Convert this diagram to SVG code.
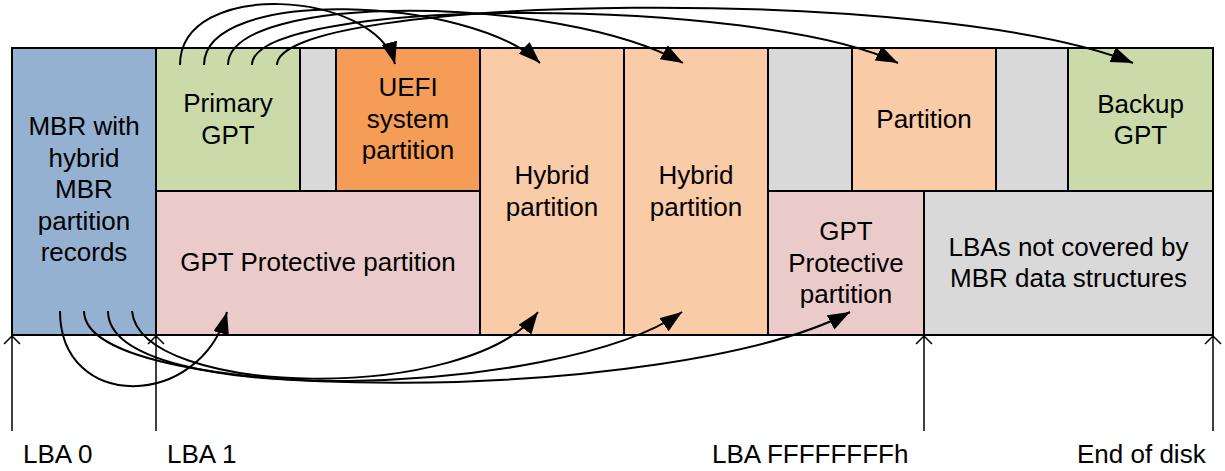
<svg xmlns="http://www.w3.org/2000/svg" width="1225" height="471" viewBox="0 0 1225 471">
<defs>
<style>
.box{stroke:#000;stroke-width:2}
.blue{fill:#95B1D2}
.green{fill:#CADBA9}
.gray{fill:#D9D9D9}
.orange{fill:#F59D56}
.peach{fill:#F9CBA6}
.pink{fill:#EBCBCA}
text{font-family:"Liberation Sans",Arial,sans-serif;font-size:26px;fill:#000}
.c{text-anchor:middle}
.conn{fill:none;stroke:#000;stroke-width:2}
.tick{fill:none;stroke:#000;stroke-width:1.5}
</style>
<marker id="ah" markerUnits="userSpaceOnUse" markerWidth="24" markerHeight="18" refX="22" refY="8" orient="auto">
<path d="M0,0 L22,8 L0,16 z" fill="#000"/>
</marker>
</defs>

<g id="mbr"><rect class="box blue" x="12" y="48" width="144" height="287"/>
<text class="c" x="84" y="135">MBR with</text><text class="c" x="84" y="166.5">hybrid</text><text class="c" x="84" y="198">MBR</text><text class="c" x="84" y="229.5">partition</text><text class="c" x="84" y="261">records</text></g>

<g id="primary-gpt"><rect class="box green" x="156" y="48" width="144" height="143"/>
<text class="c" x="228" y="112">Primary</text><text class="c" x="228" y="143.5">GPT</text></g>

<g id="gap1"><rect class="box gray" x="300" y="48" width="36" height="143"/></g>

<g id="uefi"><rect class="box orange" x="336" y="48" width="144" height="143"/>
<text class="c" x="408" y="96">UEFI</text><text class="c" x="408" y="127.5">system</text><text class="c" x="408" y="159">partition</text></g>

<g id="gpt-protective-1"><rect class="box pink" x="156" y="191" width="324" height="144"/>
<text class="c" x="318" y="271">GPT Protective partition</text></g>

<g id="hybrid-1"><rect class="box peach" x="480" y="48" width="144" height="287"/>
<text class="c" x="552" y="184">Hybrid</text><text class="c" x="552" y="215.5">partition</text></g>

<g id="hybrid-2"><rect class="box peach" x="624" y="48" width="144" height="287"/>
<text class="c" x="696" y="184">Hybrid</text><text class="c" x="696" y="215.5">partition</text></g>

<g id="gap2"><rect class="box gray" x="768" y="48" width="84" height="143"/></g>

<g id="partition"><rect class="box peach" x="852" y="48" width="144" height="143"/>
<text class="c" x="924" y="128">Partition</text></g>

<g id="gap3"><rect class="box gray" x="996" y="48" width="72" height="143"/></g>

<g id="backup-gpt"><rect class="box green" x="1068" y="48" width="145" height="143"/>
<text class="c" x="1140.5" y="112.5">Backup</text><text class="c" x="1140.5" y="144">GPT</text></g>

<g id="gpt-protective-2"><rect class="box pink" x="768" y="191" width="156" height="144"/>
<text class="c" x="846" y="240">GPT</text><text class="c" x="846" y="271.5">Protective</text><text class="c" x="846" y="303">partition</text></g>

<g id="not-covered"><rect class="box gray" x="924" y="191" width="289" height="144"/>
<text class="c" x="1068.5" y="255.5">LBAs not covered by</text><text class="c" x="1068.5" y="287">MBR data structures</text></g>

<g id="markers">
<path class="tick" d="M12,431 V336 M4,344 L12,336 L20,344"/>
<path class="tick" d="M156,431 V336 M148,344 L156,336 L164,344"/>
<path class="tick" d="M924,431 V336 M916,344 L924,336 L932,344"/>
<path class="tick" d="M1213,431 V336 M1205,344 L1213,336 L1221,344"/>
<text x="23" y="463">LBA 0</text>
<text x="167" y="463">LBA 1</text>
<text x="712" y="463">LBA FFFFFFFFh</text>
<text x="1077" y="463">End of disk</text>
</g>

<g id="connectors">
<path class="conn" marker-end="url(#ah)" d="M180,65 C180,-22 375,-10 395,64"/>
<path class="conn" marker-end="url(#ah)" d="M204,65 C204,-14 470,-4 540,63"/>
<path class="conn" marker-end="url(#ah)" d="M228,65 C228,-8 560,-6 683,63"/>
<path class="conn" marker-end="url(#ah)" d="M252,65 C252,-4 760,-4 898,63"/>
<path class="conn" marker-end="url(#ah)" d="M277,65 C277,-6 940,-16 1133,63"/>
<path class="conn" marker-end="url(#ah)" d="M60,311 C60,412 200,410 227,312"/>
<path class="conn" marker-end="url(#ah)" d="M132,311 C140,398 470,404 538,312"/>
<path class="conn" marker-end="url(#ah)" d="M108,311 C108,410 560,398 682,312"/>
<path class="conn" marker-end="url(#ah)" d="M84,311 C84,410 680,403 850,312"/>
</g>
</svg>
